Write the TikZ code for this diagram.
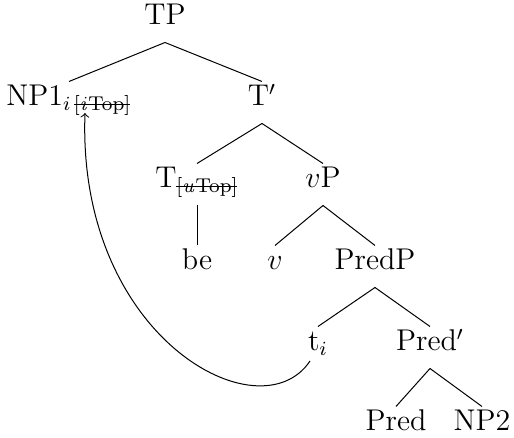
\documentclass[tikz,border=0pt]{standalone}
\usetikzlibrary{calc}
\newcommand\strk[1]{\mathpalette\strkaux{#1}}
\newcommand\strkaux[2]{\setbox0\hbox{$\mathsurround0pt#1#2$}\rlap{\rule[0.35\ht0]{\wd0}{0.4pt}}\box0}
\begin{document}
\begin{tikzpicture}[x=0.4pt,y=-0.4pt,
  lab/.style={anchor=base,inner sep=2pt,text height=7.6pt,text depth=4.8pt,font=\large},
  edge/.style={line width=0.4pt}]
\useasboundingbox (0,0) rectangle (514,438);
\node[lab] (tp) at (165,25) {TP};
\node[lab] (np1) at (69,106) {NP1$_{i\,\strk{[\mathit{i}\mathrm{Top}]}}$};
\node[lab] (tbar) at (262,106) {T$'$};
\node[lab] (t) at (197,188) {T$_{\strk{[\mathit{u}\mathrm{Top}]}}$};
\node[lab] (vp) at (323,188) {$v$P};
\node[lab] (be) at (197,270) {be};
\node[lab] (v) at (275,270) {$v$};
\node[lab] (predp) at (375,270) {PredP};
\node[lab] (ti) at (318,351) {t$_i$};
\node[lab] (predbar) at (430,351) {Pred$'$};
\node[lab] (pred) at (396,431) {Pred};
\node[lab] (np2) at (482,431) {NP2};
\draw[edge] (tp.south) -- (np1.north);
\draw[edge] (tp.south) -- (tbar.north);
\draw[edge] (tbar.south) -- (t.north);
\draw[edge] (tbar.south) -- (vp.north);
\draw[edge] (t.south) -- (be.north);
\draw[edge] (vp.south) -- (v.north);
\draw[edge] (vp.south) -- (predp.north);
\draw[edge] (predp.south) -- (ti.north);
\draw[edge] (predp.south) -- (predbar.north);
\draw[edge] (predbar.south) -- (pred.north);
\draw[edge] (predbar.south) -- (np2.north);
\coordinate (mvs) at ($(ti.base)+(-8,10)$);
\coordinate (mve) at ($(np1.base)+(16,7)$);
\draw[edge,->] (mvs) .. controls +(-50,75) and +(-8,225) .. (mve);
\end{tikzpicture}
\end{document}
